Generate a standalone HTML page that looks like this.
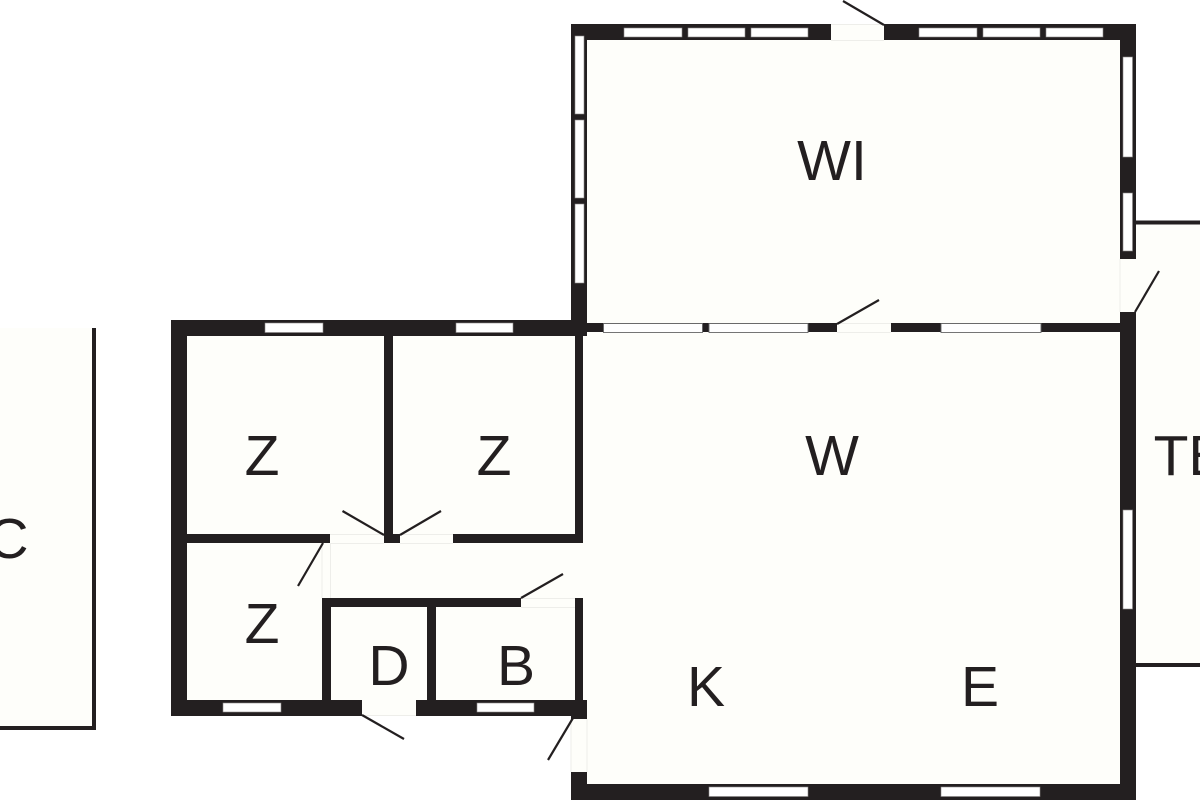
<!DOCTYPE html>
<html>
<head>
<meta charset="utf-8">
<style>
html,body{margin:0;padding:0;background:#fff;width:1200px;height:800px;overflow:hidden}
svg{display:block}
text{font-family:"Liberation Sans",sans-serif;font-size:57px;fill:#231f20;text-anchor:middle}
.w{fill:#fff;stroke:#8a8888;stroke-width:.6}
.m{fill:#fff;stroke:#666;stroke-width:.9}
.d{stroke:#231f20;stroke-width:2.2;fill:none}
.t{stroke:#eeeeea;stroke-width:1;fill:none}
</style>
</head>
<body>
<svg width="1200" height="800" viewBox="0 0 1200 800" xmlns="http://www.w3.org/2000/svg">
<!-- floor fills -->
<g fill="#fefefa">
<rect x="0" y="328" width="92" height="398"/>
<rect x="1136" y="222" width="64" height="443"/>
<rect x="587" y="40" width="533" height="292"/>
<rect x="583" y="332" width="537" height="452"/>
<rect x="187" y="336" width="396" height="364"/>
<rect x="831" y="24" width="53" height="16"/>
<rect x="1120" y="259" width="16" height="53"/>
<rect x="362" y="700" width="54" height="16"/>
<rect x="571" y="719" width="16" height="53"/>
</g>
<!-- door thresholds -->
<g class="t">
<line x1="831" y1="24.500" x2="884" y1="24.500" y2="24.500"/>
<line x1="831" y1="40.500" x2="884" y2="40.500"/>
<line x1="837" y1="323.500" x2="891" y2="323.500"/>
<line x1="837" y1="332.500" x2="891" y2="332.500"/>
<line x1="330" y1="534.500" x2="384" y2="534.500"/>
<line x1="330" y1="543.500" x2="384" y2="543.500"/>
<line x1="400" y1="534.500" x2="453" y2="534.500"/>
<line x1="400" y1="543.500" x2="453" y2="543.500"/>
<line x1="322" y1="543" x2="322" y2="598"/>
<line x1="330.500" y1="543" x2="330.500" y2="598"/>
<line x1="521" y1="598.500" x2="575" y2="598.500"/>
<line x1="521" y1="607.500" x2="575" y2="607.500"/>
<line x1="1120" y1="259" x2="1120" y2="312"/>
<line x1="362" y1="715.500" x2="416" y2="715.500"/>
<line x1="571" y1="719" x2="571" y2="772"/>
<line x1="587" y1="719" x2="587" y2="772"/>
</g>
<!-- walls -->
<g fill="#231f20">
<rect x="571" y="24" width="260" height="16"/>
<rect x="884" y="24" width="252" height="16"/>
<rect x="571" y="24" width="16" height="312"/>
<rect x="1120" y="24" width="16" height="235"/>
<rect x="1120" y="312" width="16" height="488"/>
<rect x="587" y="323" width="250" height="9"/>
<rect x="891" y="323" width="229" height="9"/>
<rect x="171" y="320" width="416" height="16"/>
<rect x="171" y="320" width="16" height="396"/>
<rect x="384" y="336" width="9" height="207"/>
<rect x="575" y="336" width="8" height="207"/>
<rect x="187" y="534" width="143" height="9"/>
<rect x="384" y="534" width="16" height="9"/>
<rect x="453" y="534" width="130" height="9"/>
<rect x="322" y="598" width="199" height="9"/>
<rect x="322" y="598" width="9" height="104"/>
<rect x="427" y="598" width="9" height="104"/>
<rect x="575" y="598" width="8" height="104"/>
<rect x="171" y="700" width="191" height="16"/>
<rect x="416" y="700" width="171" height="16"/>
<rect x="571" y="700" width="16" height="19"/>
<rect x="571" y="772" width="16" height="28"/>
<rect x="571" y="784" width="565" height="16"/>
<rect x="1136" y="220.500" width="64" height="4"/>
<rect x="1136" y="663" width="64" height="4"/>
<rect x="92" y="328" width="4" height="402"/>
<rect x="0" y="726" width="96" height="4"/>
</g>
<!-- windows -->
<g class="w">
<rect x="624" y="28" width="58" height="9"/>
<rect x="688" y="28" width="57" height="9"/>
<rect x="751" y="28" width="57" height="9"/>
<rect x="919" y="28" width="58" height="9"/>
<rect x="983" y="28" width="57" height="9"/>
<rect x="1046" y="28" width="57" height="9"/>
<rect x="575" y="36" width="9" height="78"/>
<rect x="575" y="120" width="9" height="78"/>
<rect x="575" y="204" width="9" height="79"/>
<rect x="1123" y="57" width="9.500" height="100"/>
<rect x="1123" y="193" width="9.500" height="58"/>
<rect x="1123" y="510" width="9.500" height="99"/>
<rect x="265" y="323" width="58" height="9.500"/>
<rect x="456" y="323" width="57" height="9.500"/>
<rect x="223" y="703" width="58" height="9"/>
<rect x="477" y="703" width="57" height="9"/>
<rect x="709" y="787" width="99" height="9.500"/>
<rect x="941" y="787" width="99" height="9.500"/>
</g>
<g class="m">
<rect x="603.500" y="323.500" width="99" height="9"/>
<rect x="709" y="323.500" width="99" height="9"/>
<rect x="941" y="323.500" width="100" height="9"/>
</g>
<!-- door leaves -->
<g class="d">
<line x1="884" y1="25" x2="843" y2="1"/>
<line x1="837" y1="324" x2="879" y2="300"/>
<line x1="1135" y1="312" x2="1159" y2="271"/>
<line x1="384" y1="535" x2="342.500" y2="511"/>
<line x1="400" y1="535" x2="441" y2="511"/>
<line x1="323" y1="543" x2="298" y2="586"/>
<line x1="521" y1="598" x2="563" y2="574"/>
<line x1="362" y1="715" x2="404" y2="739"/>
<line x1="573" y1="718" x2="548" y2="760"/>
</g>
<!-- labels -->
<text x="832" y="180">WI</text>
<text x="262" y="475">Z</text>
<text x="494" y="475">Z</text>
<text x="832" y="475">W</text>
<text x="262" y="643">Z</text>
<text x="389" y="685">D</text>
<text x="516" y="685">B</text>
<text x="706" y="706">K</text>
<text x="980" y="706">E</text>
<text x="1190" y="475">TE</text>
<text x="8" y="558">C</text>
</svg>
</body>
</html>
